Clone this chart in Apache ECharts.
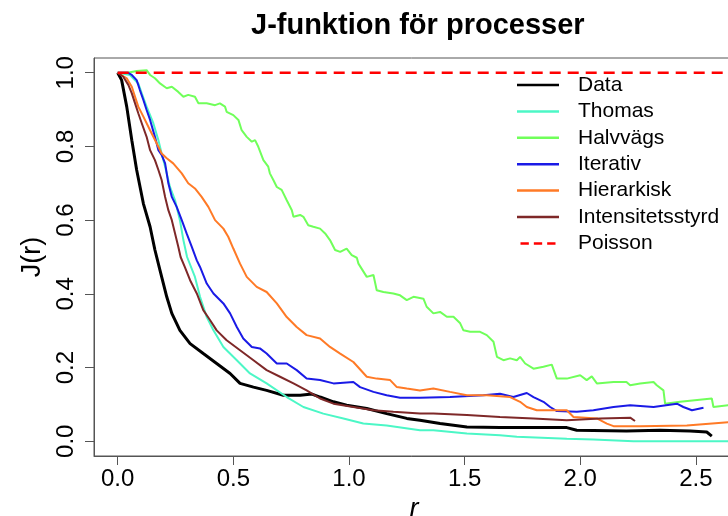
<!DOCTYPE html>
<html><head><meta charset="utf-8">
<script src="https://cdn.jsdelivr.net/npm/echarts@6/dist/echarts.min.js"></script>
<style>html,body{margin:0;padding:0;background:#fff}#c{width:728px;height:516px}</style>
</head><body><div id="c"></div>
<script>
const xTicks = [0, 0.5, 1, 1.5, 2, 2.5];
const yTicks = [0, 0.2, 0.4, 0.6, 0.8, 1.0];
const seriesNames = ['Data', 'Thomas', 'Halvvägs', 'Iterativ', 'Hierarkisk', 'Intensitetsstyrd', 'Poisson'];

const dataPts = [[0,1],[0.017,0.98],[0.039,0.908],[0.061,0.817],[0.082,0.736],[0.111,0.645],[0.14,0.582],[0.161,0.519],[0.183,0.464],[0.212,0.392],[0.234,0.347],[0.269,0.301],[0.313,0.265],[0.37,0.238],[0.428,0.211],[0.486,0.184],[0.529,0.157],[0.587,0.147],[0.644,0.138],[0.716,0.125],[0.789,0.125],[0.84,0.128],[0.875,0.12],[0.933,0.107],[0.99,0.098],[1.077,0.089],[1.163,0.075],[1.25,0.062],[1.307,0.057],[1.394,0.048],[1.51,0.039],[1.653,0.037],[1.798,0.037],[1.942,0.037],[1.985,0.03],[2.2,0.028],[2.345,0.03],[2.475,0.028],[2.547,0.025],[2.569,0.014]];

const thomasPts = [[0,1],[0.053,0.994],[0.089,0.971],[0.104,0.944],[0.125,0.908],[0.154,0.863],[0.176,0.817],[0.19,0.781],[0.205,0.745],[0.226,0.69],[0.248,0.654],[0.269,0.6],[0.284,0.546],[0.3,0.5],[0.334,0.446],[0.356,0.392],[0.385,0.337],[0.414,0.301],[0.457,0.256],[0.515,0.22],[0.572,0.184],[0.644,0.157],[0.731,0.12],[0.803,0.093],[0.889,0.075],[0.976,0.062],[1.062,0.048],[1.163,0.043],[1.307,0.03],[1.365,0.03],[1.51,0.021],[1.653,0.016],[1.726,0.012],[1.942,0.007],[2.057,0.005],[2.23,0.0],[2.665,0.0]];

const halvPts = [[0,1],[0.043,1.0],[0.082,1.005],[0.125,1.007],[0.14,0.994],[0.161,0.985],[0.183,0.971],[0.212,0.958],[0.234,0.962],[0.262,0.948],[0.284,0.935],[0.305,0.94],[0.334,0.935],[0.349,0.917],[0.385,0.917],[0.421,0.912],[0.442,0.917],[0.464,0.908],[0.471,0.894],[0.5,0.885],[0.522,0.872],[0.536,0.844],[0.558,0.826],[0.58,0.813],[0.594,0.817],[0.608,0.799],[0.63,0.763],[0.651,0.745],[0.658,0.727],[0.673,0.709],[0.688,0.69],[0.709,0.682],[0.731,0.654],[0.753,0.627],[0.76,0.609],[0.789,0.614],[0.803,0.609],[0.824,0.586],[0.846,0.582],[0.875,0.577],[0.897,0.564],[0.918,0.546],[0.94,0.519],[0.962,0.514],[0.99,0.523],[1.012,0.505],[1.034,0.498],[1.041,0.482],[1.077,0.446],[1.106,0.451],[1.12,0.41],[1.149,0.405],[1.192,0.401],[1.221,0.396],[1.25,0.383],[1.279,0.392],[1.322,0.387],[1.336,0.365],[1.365,0.347],[1.394,0.351],[1.423,0.338],[1.452,0.338],[1.481,0.32],[1.495,0.301],[1.524,0.297],[1.567,0.297],[1.596,0.288],[1.625,0.27],[1.64,0.229],[1.668,0.22],[1.697,0.225],[1.726,0.22],[1.74,0.229],[1.762,0.211],[1.798,0.197],[1.841,0.202],[1.877,0.208],[1.899,0.17],[1.942,0.17],[2.0,0.179],[2.028,0.166],[2.05,0.176],[2.072,0.157],[2.144,0.161],[2.2,0.161],[2.216,0.152],[2.259,0.157],[2.317,0.161],[2.331,0.152],[2.36,0.138],[2.367,0.102],[2.432,0.107],[2.569,0.116],[2.576,0.093],[2.665,0.1]];

const iterPts = [[0,1],[0.043,1.0],[0.061,0.994],[0.082,0.98],[0.096,0.953],[0.111,0.926],[0.125,0.899],[0.14,0.872],[0.161,0.826],[0.176,0.79],[0.19,0.777],[0.205,0.754],[0.219,0.7],[0.234,0.663],[0.255,0.636],[0.277,0.6],[0.298,0.564],[0.32,0.528],[0.342,0.491],[0.356,0.473],[0.385,0.428],[0.414,0.401],[0.457,0.374],[0.486,0.347],[0.515,0.31],[0.543,0.279],[0.58,0.256],[0.615,0.252],[0.644,0.238],[0.688,0.211],[0.731,0.211],[0.774,0.193],[0.817,0.17],[0.875,0.166],[0.933,0.157],[1.019,0.161],[1.048,0.147],[1.106,0.134],[1.163,0.125],[1.221,0.118],[1.307,0.118],[1.437,0.12],[1.581,0.125],[1.653,0.129],[1.711,0.12],[1.769,0.131],[1.798,0.12],[1.841,0.107],[1.87,0.093],[1.899,0.082],[1.985,0.08],[2.057,0.084],[2.144,0.093],[2.216,0.098],[2.317,0.093],[2.418,0.102],[2.446,0.093],[2.483,0.084],[2.533,0.091]];

const hierPts = [[0,1],[0.039,0.985],[0.061,0.962],[0.075,0.935],[0.089,0.908],[0.111,0.881],[0.14,0.844],[0.169,0.808],[0.19,0.781],[0.212,0.768],[0.24,0.754],[0.277,0.727],[0.305,0.7],[0.334,0.686],[0.363,0.663],[0.392,0.636],[0.421,0.6],[0.457,0.577],[0.478,0.555],[0.5,0.523],[0.529,0.482],[0.558,0.446],[0.601,0.419],[0.644,0.405],[0.688,0.374],[0.731,0.337],[0.774,0.31],[0.817,0.288],[0.875,0.279],[0.918,0.256],[0.962,0.238],[1.019,0.215],[1.077,0.175],[1.12,0.17],[1.178,0.166],[1.207,0.147],[1.25,0.143],[1.307,0.138],[1.365,0.143],[1.437,0.134],[1.51,0.125],[1.596,0.125],[1.697,0.12],[1.74,0.107],[1.769,0.093],[1.812,0.084],[1.942,0.084],[1.971,0.066],[2.072,0.062],[2.115,0.048],[2.144,0.041],[2.259,0.041],[2.461,0.043],[2.665,0.053]];

const intensPts = [[0,1],[0.024,0.989],[0.046,0.967],[0.061,0.944],[0.075,0.917],[0.089,0.89],[0.104,0.863],[0.125,0.826],[0.14,0.79],[0.161,0.763],[0.176,0.736],[0.19,0.709],[0.205,0.663],[0.219,0.627],[0.234,0.6],[0.248,0.564],[0.262,0.528],[0.272,0.5],[0.29,0.473],[0.313,0.437],[0.342,0.401],[0.37,0.356],[0.399,0.329],[0.428,0.301],[0.471,0.274],[0.529,0.247],[0.587,0.22],[0.644,0.193],[0.702,0.175],[0.76,0.157],[0.817,0.138],[0.875,0.116],[0.933,0.102],[1.019,0.093],[1.106,0.084],[1.192,0.08],[1.307,0.075],[1.365,0.075],[1.51,0.071],[1.653,0.066],[1.798,0.062],[1.942,0.057],[2.086,0.062],[2.216,0.064],[2.237,0.055]];

const poissonPts = [[0,1],[2.665,1]];

const allPts = [dataPts, thomasPts, halvPts, iterPts, hierPts, intensPts, poissonPts];
const colors = ['#000000', '#4cf7c6', '#70ff5a', '#1a1ae6', '#ff7a26', '#7e2828', '#ff0000'];
const widths = [3, 2, 2, 2, 2, 2, 2.5];

const FONT = "'Liberation Sans', Arial, Helvetica, sans-serif";
const chart = echarts.init(document.getElementById('c'), null, {renderer: 'canvas'});

const series = seriesNames.map((n, i) => ({
  name: n,
  type: 'line',
  data: allPts[i],
  symbol: 'none',
  showSymbol: false,
  z: i === 6 ? 10 : 2 + i,
  lineStyle: {color: colors[i], width: widths[i], type: i === 6 ? [11, 7] : 'solid'},
  itemStyle: {color: colors[i]},
  emphasis: {disabled: true}
}));

const dashIcon = 'path://M0,0h10v3h-10z M16,0h10v3h-10z M32,0h10v3h-10z';

chart.setOption({
  animation: false,
  backgroundColor: '#ffffff',
  title: {
    text: 'J-funktion för processer',
    left: 246, top: 6,
    textStyle: {fontFamily: FONT, fontWeight: 'bold', fontSize: 29, color: '#000'}
  },
  legend: {
    orient: 'vertical',
    left: 517, top: 74,
    padding: 0,
    itemWidth: 42, itemHeight: 2.5, itemGap: 4.4,
    textStyle: {fontFamily: FONT, fontSize: 21, color: '#000', lineHeight: 22, padding: [0, 0, 0, 14]},
    data: seriesNames.map((n, i) => ({name: n, icon: i === 6 ? dashIcon : 'rect', itemStyle: {color: colors[i]}}))
  },
  grid: {left: 94, right: -6, top: 58, bottom: 60, show: true, borderColor: '#555', borderWidth: 1, containLabel: false, outerBoundsMode: 'none'},
  xAxis: {
    type: 'value', min: -0.1025, max: 2.665,
    name: 'r', nameLocation: 'middle', nameGap: 40,
    nameTextStyle: {fontFamily: FONT, fontSize: 27, fontStyle: 'italic', color: '#000'},
    axisLine: {show: true, onZero: false, lineStyle: {color: '#555', width: 1}},
    axisTick: {show: true, customValues: xTicks, length: 9, lineStyle: {color: '#555', width: 1}},
    axisLabel: {customValues: xTicks, margin: 11, fontFamily: FONT, fontSize: 24, color: '#000', formatter: v => v.toFixed(1)},
    splitLine: {show: false}
  },
  yAxis: {
    type: 'value', min: -0.04, max: 1.04,
    name: 'J(r)', nameLocation: 'middle', nameGap: 40, nameRotate: 90,
    nameTextStyle: {fontFamily: FONT, fontSize: 27, color: '#000'},
    axisLine: {show: true, onZero: false, lineStyle: {color: '#555', width: 1}},
    axisTick: {show: true, customValues: yTicks, length: 9, lineStyle: {color: '#555', width: 1}},
    axisLabel: {customValues: yTicks, rotate: 90, margin: 16, fontFamily: FONT, fontSize: 24, color: '#000', formatter: v => v.toFixed(1)},
    splitLine: {show: false}
  },
  series: series
});
</script>
</body></html>
